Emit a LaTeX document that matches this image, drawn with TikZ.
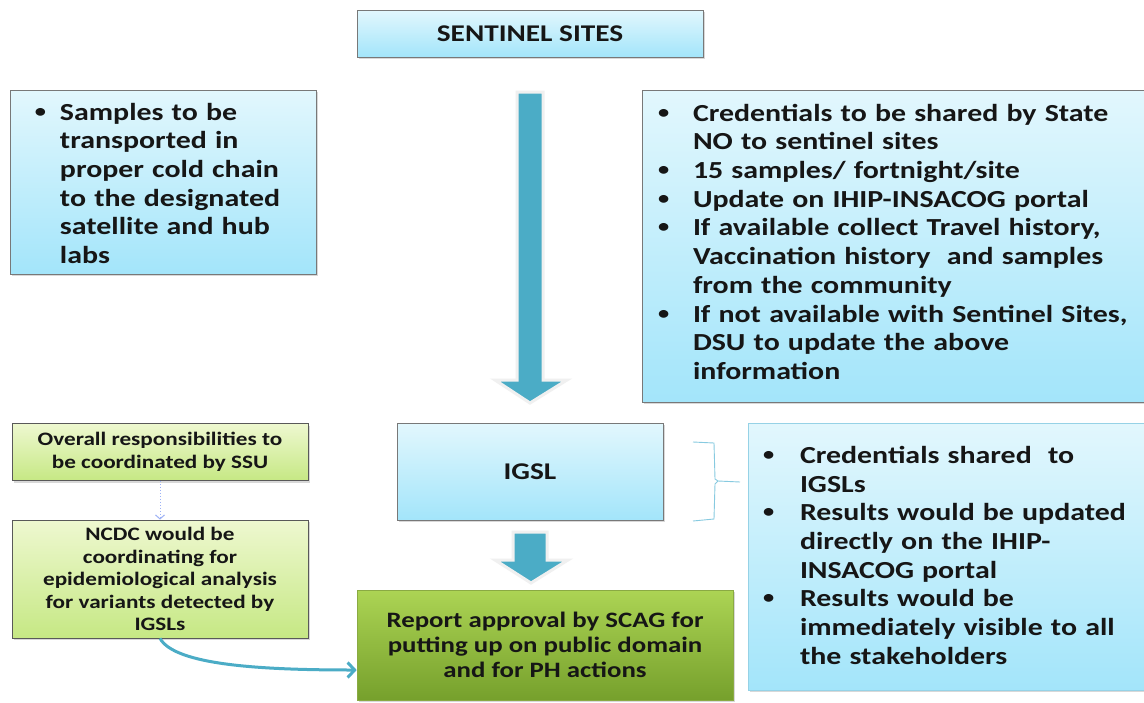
\documentclass[tikz,border=0pt]{standalone}
\usepackage{fontspec}
\setmainfont{Carlito}[FakeStretch=1.22]
\usetikzlibrary{shadows,arrows.meta}
\definecolor{boxtop}{RGB}{226,247,253}
\definecolor{boxbot}{RGB}{163,229,250}
\definecolor{boxline}{RGB}{120,120,120}
\definecolor{edgeblue}{RGB}{150,210,230}
\definecolor{arrowteal}{RGB}{75,172,198}
\definecolor{greentop}{RGB}{238,248,208}
\definecolor{greenbot}{RGB}{198,232,132}
\definecolor{reptop}{RGB}{172,212,84}
\definecolor{repbot}{RGB}{118,160,44}
\definecolor{textdark}{RGB}{22,22,22}
\newcommand{\bul}[2][36pt]{\par\noindent\rightskip=0pt plus 1fil\hangindent=#1\hangafter=1%
  \makebox[#1][l]{\hspace{1pt}\raisebox{0.12em}{\scalebox{0.75}{\textbullet}}}#2\par}
\tikzset{
  bluebox/.style={draw=boxline, line width=0.8pt, top color=boxtop, bottom color=boxbot,
    drop shadow={opacity=0.3, shadow xshift=1.5pt, shadow yshift=-2pt}, text=textdark},
  greenbox/.style={draw=black!65, line width=0.8pt, top color=greentop, bottom color=greenbot,
    drop shadow={opacity=0.3, shadow xshift=1.5pt, shadow yshift=-2pt}, text=textdark, align=center,
    font=\fontsize{19}{22.5}\selectfont\bfseries},
  reportbox/.style={draw=reptop!80!black, line width=0.6pt, top color=reptop, bottom color=repbot,
    drop shadow={opacity=0.3, shadow xshift=1.5pt, shadow yshift=-2pt}, text=textdark, align=center,
    font=\fontsize{22}{25}\selectfont\bfseries},
  bigtext/.style={font=\fontsize{24.5}{28.7}\selectfont\bfseries, inner ysep=0pt},
  titletext/.style={font=\fontsize{24}{28}\selectfont\bfseries},
  blockarrow/.style={fill=arrowteal, draw=black!6, line width=3pt, line join=miter},
}
\begin{document}
\begin{tikzpicture}[x=1pt,y=-1pt]
\clip (0,0) rectangle (1144,702);
\fill[white] (0,0) rectangle (1144,702);
% TOP BOX
\node[bluebox, titletext, minimum width=346, minimum height=47] (sites) at (530,33.5) {SENTINEL SITES};
% SIDE NOTES
\node[bluebox, bigtext, minimum width=306, minimum height=184, text width=258] (samples) at (163,182)
  {\bul[26pt]{Samples to be\newline transported in\newline proper cold chain\newline to the designated\newline satellite and hub\newline labs}\vspace{9pt}};
\node[bluebox, bigtext, minimum width=520, minimum height=312, text width=490] (creds) at (902,246)
  {\bul{Credentials to be shared by State\newline NO to sentinel sites}
   \bul{15 samples/ fortnight/site}
   \bul{Update on IHIP-INSACOG portal}
   \bul{If available collect Travel history,\newline Vaccination history\ \ and samples\newline from the community}
   \bul{If not available with Sentinel Sites,\newline DSU to update the above\newline information}\vspace{20pt}};
% MAIN ARROW
\draw[blockarrow] (517,92) -- (543,92) -- (543,380) -- (567,380) -- (530,403) -- (495,380) -- (517,380) -- cycle;
% IGSL
\node[bluebox, titletext, minimum width=266, minimum height=97] (igsl) at (530,471.5) {IGSL};
\node[bluebox, draw=edgeblue, bigtext, minimum width=412, minimum height=267, text width=384] (results) at (954,556.5)
  {\bul[38pt]{Credentials shared\ \ to\newline IGSLs}
   \bul[38pt]{Results would be updated\newline directly on the IHIP-\newline INSACOG portal}
   \bul[38pt]{Results would be\newline immediately visible to all\newline the stakeholders}\vspace{14pt}};
% BRACE
\draw[edgeblue!80!arrowteal, line width=0.9pt] (693,442) -- (714,443) -- (715,479) -- (718,481) -- (740,482)
  (718,481) -- (715,484) -- (714,519) -- (693,521);
\draw[blockarrow] (513,532) -- (547,532) -- (547,560) -- (568,560) -- (531,583) -- (495,560) -- (513,560) -- cycle;
% GREEN BOXES
\node[greenbox, minimum width=296, minimum height=57] (ssu) at (160,452) {Overall responsibilities to\\be coordinated by SSU};
\node[greenbox, minimum width=296, minimum height=118] (ncdc) at (160,579)
  {NCDC would be\\coordinating for\\epidemiological analysis\\for variants detected by\\IGSLs};
\node[reportbox, minimum width=376, minimum height=110] (report) at (545,645)
  {Report approval by SCAG for\\putting up on public domain\\and for PH actions};
% CONNECTORS
\draw[edgeblue!60!blue!60, line width=1pt, dotted, -{Straight Barb[length=4pt,width=9pt]}] (ssu.south) -- (ncdc.north);
\draw[arrowteal, line width=3pt, -{Straight Barb[length=7pt,width=15pt]}] (ncdc.south)
  .. controls (175,665) and (260,670) .. ([yshift=-25pt]report.west);
\end{tikzpicture}
\end{document}
